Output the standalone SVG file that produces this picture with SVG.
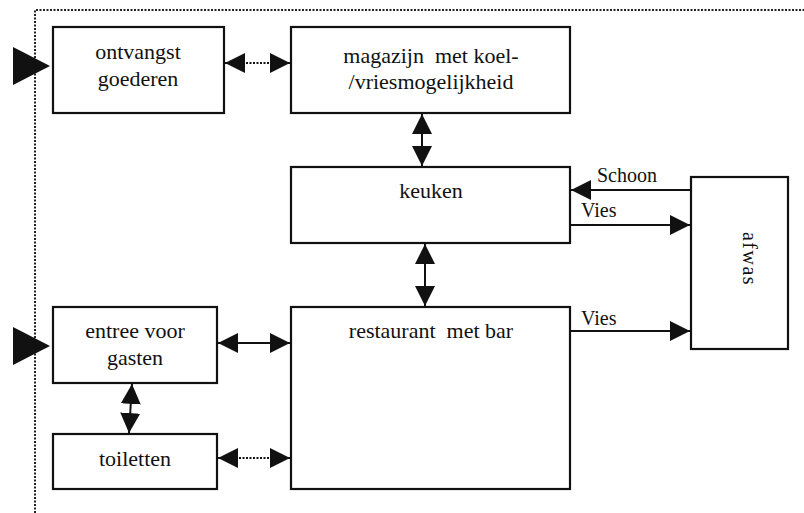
<svg xmlns="http://www.w3.org/2000/svg" width="804" height="513" viewBox="0 0 804 513" font-family="'Liberation Serif', 'DejaVu Serif', 'Noto Serif', serif">
<style>
  .box { fill: #fff; stroke: #111; stroke-width: 2.2; }
  .t { font-family: 'Liberation Serif', 'DejaVu Serif', serif; font-size: 22px; fill: #111; text-anchor: middle; }
  .lbl { font-family: 'Liberation Serif', 'DejaVu Serif', serif; font-size: 20px; fill: #111; }
  .c { stroke: #111; stroke-width: 2; fill: none; }
  .dot { stroke-dasharray: 2 1.5; }
  .frame { stroke: #222; stroke-width: 2; stroke-dasharray: 2 1.5; fill: none; }
</style>
<defs>
  <marker id="ah" markerUnits="userSpaceOnUse" markerWidth="20" markerHeight="20" refX="20" refY="10" orient="auto-start-reverse" viewBox="0 0 20 20">
    <path d="M0,0 L20,10 L0,20 z" fill="#111"/>
  </marker>
</defs>
<rect width="804" height="513" fill="#fff"/>
<g id="frame">
  <path class="frame" d="M35,513 V10 H804"/>
</g>
<g id="entries">
  <polygon points="13,47 50,66 13,85" fill="#111"/>
  <polygon points="13,327 50,346 13,365" fill="#111"/>
</g>
<g id="ontvangst">
  <rect class="box" x="53" y="27" width="171" height="86"/>
  <text class="t" x="138" y="59">ontvangst</text>
  <text class="t" x="138" y="86">goederen</text>
</g>
<g id="magazijn">
  <rect class="box" x="291" y="27" width="279" height="86"/>
  <text class="t" x="431" y="63" xml:space="preserve">magazijn  met koel-</text>
  <text class="t" x="431" y="89">/vriesmogelijkheid</text>
</g>
<g id="keuken">
  <rect class="box" x="291" y="167" width="279" height="76"/>
  <text class="t" x="431" y="198">keuken</text>
</g>
<g id="afwas">
  <rect class="box" x="691" y="177" width="97" height="172"/>
  <text class="lbl" transform="translate(743,259) rotate(90)" text-anchor="middle" letter-spacing="1.5">afwas</text>
</g>
<g id="restaurant">
  <rect class="box" x="291" y="307" width="279" height="182"/>
  <text class="t" x="431" y="338" xml:space="preserve">restaurant  met bar</text>
</g>
<g id="entree">
  <rect class="box" x="53" y="307" width="164" height="76"/>
  <text class="t" x="135" y="338">entree voor</text>
  <text class="t" x="135" y="365">gasten</text>
</g>
<g id="toiletten">
  <rect class="box" x="53" y="434" width="164" height="55"/>
  <text class="t" x="135" y="466">toiletten</text>
</g>
<g id="connectors">
  <line class="c dot" x1="225" y1="63" x2="290" y2="63" marker-start="url(#ah)" marker-end="url(#ah)"/>
  <line class="c" x1="422" y1="114" x2="422" y2="166" marker-start="url(#ah)" marker-end="url(#ah)"/>
  <line class="c" x1="425" y1="244" x2="425" y2="306" marker-start="url(#ah)" marker-end="url(#ah)"/>
  <line class="c" x1="691" y1="190" x2="571" y2="190" marker-end="url(#ah)"/>
  <line class="c" x1="570" y1="225" x2="690" y2="225" marker-end="url(#ah)"/>
  <line class="c" x1="570" y1="331" x2="690" y2="331" marker-end="url(#ah)"/>
  <line class="c" x1="218" y1="343" x2="290" y2="343" marker-start="url(#ah)" marker-end="url(#ah)"/>
  <line class="c" x1="132" y1="384" x2="129" y2="433" marker-start="url(#ah)" marker-end="url(#ah)"/>
  <line class="c dot" x1="218" y1="458" x2="290" y2="458" marker-start="url(#ah)" marker-end="url(#ah)"/>
  <text class="lbl" x="597" y="182">Schoon</text>
  <text class="lbl" x="581" y="217">Vies</text>
  <text class="lbl" x="581" y="325">Vies</text>
</g>
</svg>
